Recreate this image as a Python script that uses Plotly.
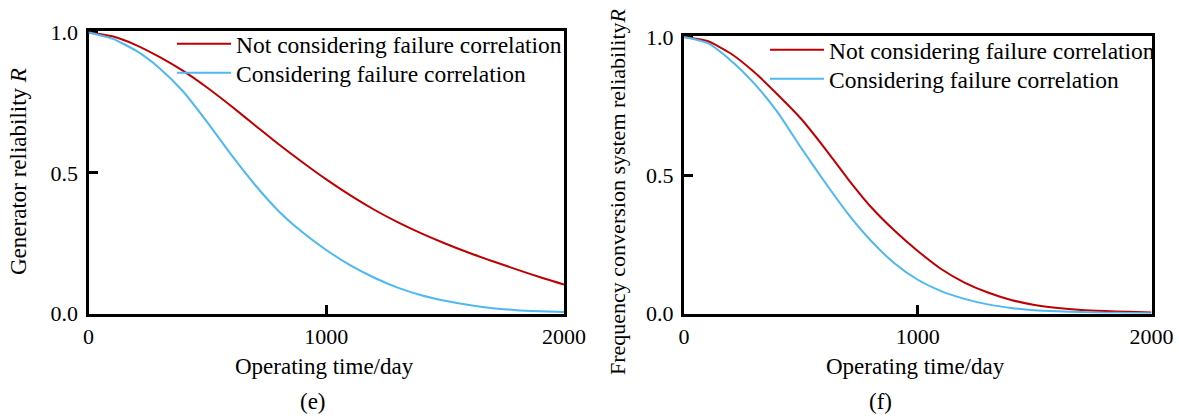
import plotly.graph_objects as go

# ---- data ----
days = [0, 100, 200, 300, 400, 500, 600, 700, 800, 900, 1000,
        1100, 1200, 1300, 1400, 1500, 1600, 1700, 1800, 1900, 2000]

# (e) Generator reliability R
gen_not_corr = [1.000, 0.986, 0.955, 0.912, 0.862, 0.803, 0.738, 0.670, 0.602, 0.538, 0.477,
                0.421, 0.370, 0.325, 0.285, 0.249, 0.216, 0.186, 0.157, 0.129, 0.103]
gen_corr = [1.000, 0.978, 0.935, 0.872, 0.788, 0.680, 0.565, 0.458, 0.364, 0.289, 0.226,
            0.172, 0.128, 0.092, 0.065, 0.045, 0.030, 0.019, 0.012, 0.008, 0.005]

# (f) Frequency conversion system reliability R
fcs_not_corr = [1.000, 0.985, 0.940, 0.873, 0.792, 0.705, 0.600, 0.488, 0.385, 0.300, 0.226,
                0.161, 0.112, 0.076, 0.049, 0.031, 0.020, 0.013, 0.009, 0.006, 0.004]
fcs_corr = [1.000, 0.978, 0.915, 0.832, 0.728, 0.600, 0.478, 0.362, 0.263, 0.182, 0.122,
            0.081, 0.053, 0.033, 0.020, 0.012, 0.008, 0.005, 0.003, 0.002, 0.001]

series_names = ["Not considering failure correlation", "Considering failure correlation"]
x_ticks = [0, 1000, 2000]
x_ticktext = ["0", "1000", "2000"]
y_ticks = [0.0, 0.5, 1.0]
y_ticktext = ["0.0", "0.5", "1.0"]

RED = "#C00000"
BLUE = "#4DB8F2"
FONT = "Times New Roman, Liberation Serif, DejaVu Serif, serif"

W, H = 1179, 416

def px_x(p):
    return p / W

def px_y(p):
    return 1 - p / H

fig = go.Figure()

line_style = dict(width=2, shape="spline", smoothing=0.6)
fig.add_trace(go.Scatter(x=days, y=gen_not_corr, name=series_names[0], mode="lines",
                         line=dict(color=RED, **line_style),
                         xaxis="x", yaxis="y", legend="legend"))
fig.add_trace(go.Scatter(x=days, y=gen_corr, name=series_names[1], mode="lines",
                         line=dict(color=BLUE, **line_style),
                         xaxis="x", yaxis="y", legend="legend2"))
fig.add_trace(go.Scatter(x=days, y=fcs_not_corr, name=series_names[0], mode="lines",
                         line=dict(color=RED, **line_style),
                         xaxis="x2", yaxis="y2", legend="legend3"))
fig.add_trace(go.Scatter(x=days, y=fcs_corr, name=series_names[1], mode="lines",
                         line=dict(color=BLUE, **line_style),
                         xaxis="x2", yaxis="y2", legend="legend4"))

axis_common = dict(showgrid=False, zeroline=False, showline=True, linecolor="black",
                   linewidth=3, mirror=True, ticks="inside", ticklen=9, tickwidth=3,
                   tickcolor="black", tickfont=dict(family=FONT, size=22, color="black"),
                   layer="below traces", automargin=False)

legend_common = dict(xanchor="left", yanchor="top", bgcolor="rgba(0,0,0,0)",
                     borderwidth=0, itemwidth=54,
                     font=dict(family=FONT, size=23.5, color="black"))

fig.update_layout(
    template="none",
    width=W, height=H,
    margin=dict(l=0, r=0, t=0, b=0, pad=0, autoexpand=False),
    paper_bgcolor="white", plot_bgcolor="white",
    font=dict(family=FONT, color="black"),
    xaxis=dict(domain=[px_x(88.5), px_x(564)], range=[0, 2000], anchor="y",
               tickvals=x_ticks, ticktext=x_ticktext, ticklabelstandoff=1, **axis_common),
    yaxis=dict(domain=[px_y(313.5), px_y(31)], range=[0, 1.005], anchor="x",
               tickvals=y_ticks, ticktext=y_ticktext, ticklabelstandoff=3, **axis_common),
    xaxis2=dict(domain=[px_x(684), px_x(1151.5)], range=[0, 2000], anchor="y2",
                tickvals=x_ticks, ticktext=x_ticktext, ticklabelstandoff=1, **axis_common),
    yaxis2=dict(domain=[px_y(313.5), px_y(35.5)], range=[0, 1.005], anchor="x2",
                tickvals=y_ticks, ticktext=y_ticktext, ticklabelstandoff=3, **axis_common),
    legend=dict(x=px_x(172), y=px_y(22), **legend_common),
    legend2=dict(x=px_x(172), y=px_y(51), **legend_common),
    legend3=dict(x=px_x(765), y=px_y(28), **legend_common),
    legend4=dict(x=px_x(765), y=px_y(57), **legend_common),
    showlegend=True,
)

ann_font = dict(family=FONT, size=23, color="black")
fig.add_annotation(text="Generator reliability <i>R</i>", xref="paper", yref="paper",
                   x=px_x(18), y=px_y(172), textangle=-90, showarrow=False,
                   xanchor="center", yanchor="middle", font=ann_font)
fig.add_annotation(text="Frequency conversion system reliability<i>R</i>", xref="paper", yref="paper",
                   x=px_x(617), y=px_y(192), textangle=-90, showarrow=False,
                   xanchor="center", yanchor="middle", font=dict(family=FONT, size=22, color="black"))
fig.add_annotation(text="Operating time/day", xref="paper", yref="paper",
                   x=px_x(324), y=px_y(366), showarrow=False,
                   xanchor="center", yanchor="middle", font=ann_font)
fig.add_annotation(text="Operating time/day", xref="paper", yref="paper",
                   x=px_x(916), y=px_y(366), showarrow=False,
                   xanchor="center", yanchor="middle", font=ann_font)
fig.add_annotation(text="(e)", xref="paper", yref="paper",
                   x=px_x(313), y=px_y(401), showarrow=False,
                   xanchor="center", yanchor="middle", font=ann_font)
fig.add_annotation(text="(f)", xref="paper", yref="paper",
                   x=px_x(880), y=px_y(401), showarrow=False,
                   xanchor="center", yanchor="middle", font=ann_font)

fig.write_html("out.html")
